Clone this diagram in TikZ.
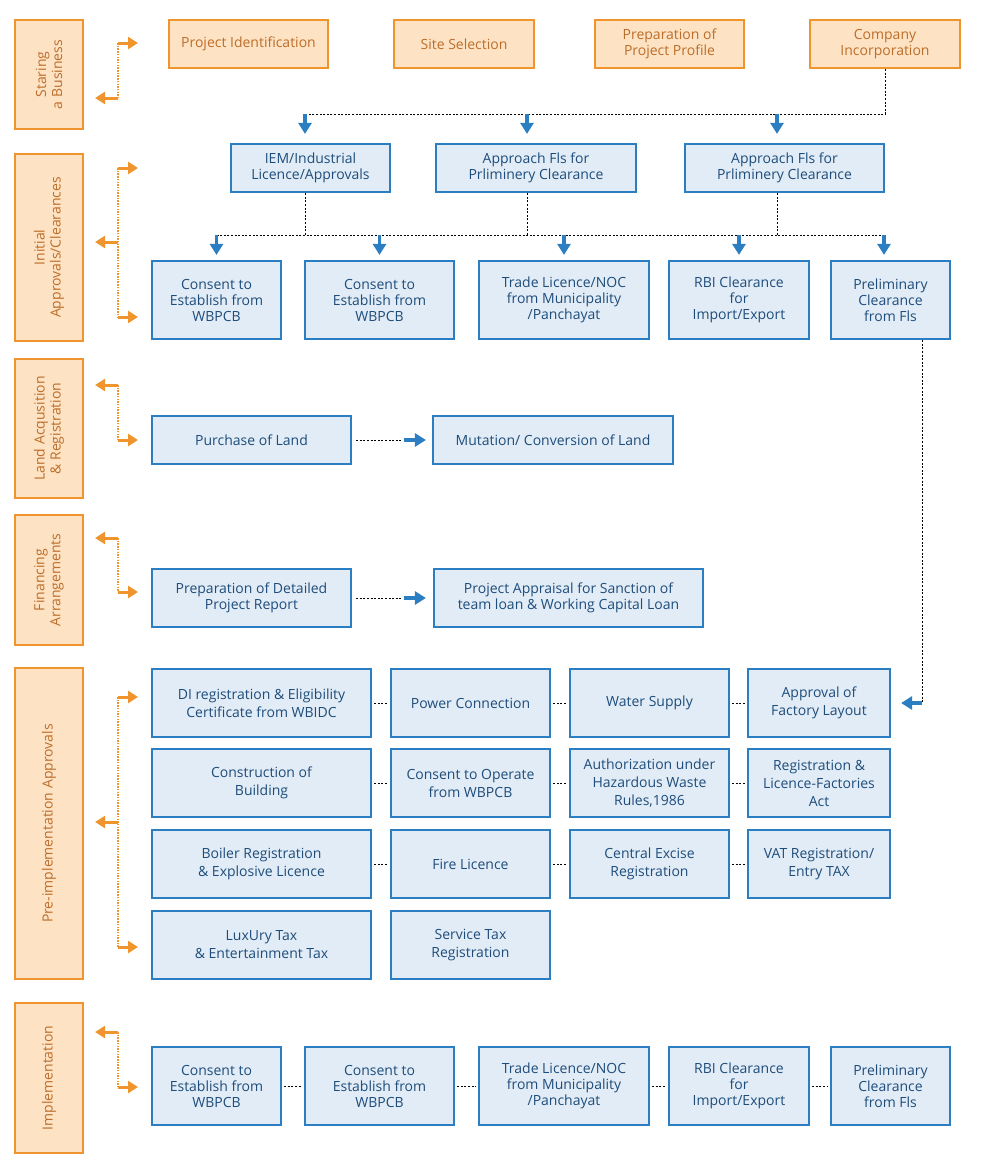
\documentclass[tikz,border=0pt]{standalone}
\usepackage{fontspec}
\setmainfont{Open Sans}
\usetikzlibrary{arrows.meta}
\definecolor{obd}{HTML}{F0952E}
\definecolor{obf}{HTML}{FDE2C3}
\definecolor{otx}{HTML}{BD6E2A}
\definecolor{bbd}{HTML}{2A7EC1}
\definecolor{bbf}{HTML}{E2ECF6}
\definecolor{btx}{HTML}{1E4D7B}
\newcommand\placebox[7]{\node[#2, minimum width={(#5-#3)*1pt}, minimum height={(#6-#4)*1pt}] (#1) at ({(#3+#5)/2},{(#4+#6)/2}) {#7};}
\newcommand\placestage[6]{\node[stg, minimum width={(#5-#3)*1pt}, minimum height={(#4-#2)*1pt}] (#1) at ({(#2+#4)/2},{(#3+#5)/2}) {#6};}
\tikzset{
  obox/.style={draw=obd, fill=obf, line width=2.2pt, text=otx, align=center, inner sep=0pt},
  bbox/.style={draw=bbd, fill=bbf, line width=2.2pt, text=btx, align=center, inner sep=0pt},
  gbox/.style={bbox, font=\fontsize{14}{18}\selectfont},
  stg/.style={obox, rotate=90},
  dotline/.style={black, line width=0.9pt, dash pattern=on 2pt off 1.6pt},
  barrow/.style={bbd, line width=3.2pt, -{Triangle[width=13pt,length=11pt]}},
  oarrow/.style={obd, line width=3pt, -{Triangle[width=12pt,length=10pt]}},
  odot/.style={obd, line width=2pt, dash pattern=on 1.5pt off 1.2pt}
}
\begin{document}
\begin{tikzpicture}[x=1pt, y=-1pt, font=\fontsize{14}{16}\selectfont]
\useasboundingbox[fill=white] (0,0) rectangle (982,1170);

% stages
\placestage{st1}{15}{20}{83}{129}{Staring\\a Business}
\placestage{st2}{15}{154}{83}{341}{Initial\\Approvals/Clearances}
\placestage{st3}{15}{359}{83}{498}{Land Acqusition\\\& Registration}
\placestage{st4}{15}{515}{83}{645}{Financing\\Arrangements}
\placestage{st5}{15}{668}{83}{979}{Pre-implementation Approvals}
\placestage{st6}{15}{1003}{83}{1153}{Implementation}

% row 1
\placebox{pid}{obox}{169}{20}{328}{68}{Project Identification}
\placebox{site}{obox}{394}{20}{534}{68}{Site Selection}
\placebox{prof}{obox}{595}{20}{744}{68}{Preparation of\\Project Profile}
\placebox{comp}{obox}{810}{20}{960}{68}{Company\\Incorporation}

% row 2
\placebox{iem}{bbox}{231}{144}{390}{192}{IEM/Industrial\\Licence/Approvals}
\placebox{afa}{bbox}{436}{144}{636}{192}{Approach Fls for\\Prliminery Clearance}
\placebox{afb}{bbox}{685}{144}{884}{192}{Approach Fls for\\Prliminery Clearance}

% row 3
\placebox{ca}{bbox}{152}{261}{281}{339}{Consent to\\Establish from\\WBPCB}
\placebox{cb}{bbox}{305}{261}{454}{339}{Consent to\\Establish from\\WBPCB}
\placebox{tl}{bbox}{479}{261}{649}{339}{Trade Licence/NOC\\from Municipality\\/Panchayat}
\placebox{rbi}{bbox}{669}{261}{809}{339}{RBI Clearance\\for\\Import/Export}
\placebox{pcf}{bbox}{831}{261}{950}{339}{Preliminary\\Clearance\\from Fls}

% land
\placebox{pl}{bbox}{152}{416}{351}{464}{Purchase of Land}
\placebox{mut}{bbox}{433}{416}{673}{464}{Mutation/ Conversion of Land}

% financing
\placebox{dpr}{bbox}{152}{569}{351}{627}{Preparation of Detailed\\Project Report}
\placebox{pa}{bbox}{434}{569}{703}{627}{Project Appraisal for Sanction of\\team loan \& Working Capital Loan}

% pre-implementation grid
\placebox{g11}{gbox}{152}{669}{371}{737}{DI registration \& Eligibility\\Certificate from WBIDC}
\placebox{g12}{gbox}{391}{669}{550}{737}{Power Connection}
\placebox{g13}{gbox}{570}{669}{729}{737}{Water Supply}
\placebox{g14}{gbox}{748}{669}{890}{737}{Approval of\\Factory Layout}
\placebox{g21}{gbox}{152}{749}{371}{817}{Construction of\\Building}
\placebox{g22}{gbox}{391}{749}{550}{817}{Consent to Operate\\from WBPCB}
\placebox{g23}{gbox}{570}{749}{729}{817}{Authorization under\\Hazardous Waste\\Rules,1986}
\placebox{g24}{gbox}{748}{749}{890}{817}{Registration \&\\Licence-Factories\\Act}
\placebox{g31}{gbox}{152}{830}{371}{898}{Boiler Registration\\\& Explosive Licence}
\placebox{g32}{gbox}{391}{830}{550}{898}{Fire Licence}
\placebox{g33}{gbox}{570}{830}{729}{898}{Central Excise\\Registration}
\placebox{g34}{gbox}{748}{830}{890}{898}{VAT Registration/\\Entry TAX}
\placebox{g41}{gbox}{152}{911}{371}{979}{LuxUry Tax\\\& Entertainment Tax}
\placebox{g42}{gbox}{391}{911}{550}{979}{Service Tax\\Registration}

% implementation
\placebox{ia}{bbox}{152}{1047}{281}{1125}{Consent to\\Establish from\\WBPCB}
\placebox{ib}{bbox}{305}{1047}{454}{1125}{Consent to\\Establish from\\WBPCB}
\placebox{itl}{bbox}{479}{1047}{649}{1125}{Trade Licence/NOC\\from Municipality\\/Panchayat}
\placebox{irbi}{bbox}{669}{1047}{809}{1125}{RBI Clearance\\for\\Import/Export}
\placebox{ipcf}{bbox}{831}{1047}{950}{1125}{Preliminary\\Clearance\\from Fls}

% ---- connectors: company incorporation -> row 2
\coordinate (busA) at (0,114);
\coordinate (ax1) at (305,0);
\coordinate (ax2) at (527,0);
\coordinate (ax3) at (777,0);
\draw[dotline] (comp.south) -- (comp.south |- busA) -- (ax1 |- busA);
\draw[barrow] (ax1 |- busA) -- ([yshift=9pt]ax1 |- iem.north);
\draw[barrow] (ax2 |- busA) -- ([yshift=9pt]ax2 |- afa.north);
\draw[barrow] (ax3 |- busA) -- ([yshift=9pt]ax3 |- afb.north);

% ---- row 2 -> row 3
\coordinate (busB) at (0,235);
\coordinate (bx5) at (884,0);
\draw[dotline] (ax1 |- iem.south) -- (ax1 |- busB);
\draw[dotline] (ax2 |- afa.south) -- (ax2 |- busB);
\draw[dotline] (ax3 |- afb.south) -- (ax3 |- busB);
\draw[dotline] (ca.north |- busB) -- (bx5 |- busB);
\draw[barrow] (ca.north |- busB) -- ([yshift=5pt]ca.north);
\draw[barrow] (cb.north |- busB) -- ([yshift=5pt]cb.north);
\draw[barrow] (tl.north |- busB) -- ([yshift=5pt]tl.north);
\draw[barrow] (rbi.north |- busB) -- ([yshift=5pt]rbi.north);
\draw[barrow] (bx5 |- busB) -- ([yshift=5pt]bx5 |- pcf.north);

% ---- preliminary clearance -> factory layout
\coordinate (px) at (922,703);
\draw[dotline] (px |- pcf.south) -- (px);
\draw[barrow, shorten >=10pt] (px) -- (g14.east |- px);

% ---- land and financing arrows
\draw[dotline] ([xshift=4pt]pl.east) -- ([xshift=-31pt]mut.west);
\draw[barrow] ([xshift=-28pt]mut.west) -- ([xshift=-6pt]mut.west);
\draw[dotline] ([xshift=4pt]dpr.east |- pa.west) -- ([xshift=-32pt]pa.west);
\draw[barrow] ([xshift=-29pt]pa.west) -- ([xshift=-7pt]pa.west);

% ---- grid connectors
\foreach \r in {1,2,3}{
  \draw[dotline] ([xshift=2pt]g\r1.east) -- ([xshift=-2pt]g\r2.west);
  \draw[dotline] ([xshift=2pt]g\r2.east) -- ([xshift=-2pt]g\r3.west);
  \draw[dotline] ([xshift=2pt]g\r3.east) -- ([xshift=-2pt]g\r4.west);
}
\draw[dotline] ([xshift=2pt]ia.east) -- ([xshift=-2pt]ib.west);
\draw[dotline] ([xshift=2pt]ib.east) -- ([xshift=-2pt]itl.west);
\draw[dotline] ([xshift=2pt]itl.east) -- ([xshift=-2pt]irbi.west);
\draw[dotline] ([xshift=2pt]irbi.east) -- ([xshift=-2pt]ipcf.west);

% ---- orange brackets
\coordinate (o1a) at (118,43);  \coordinate (o1b) at (118,98);
\draw[odot] (o1a) -- (o1b);
\draw[oarrow] (o1a) -- ++(20,0);
\draw[oarrow, shorten >=11pt] (o1b) -- (st1.south |- o1b);

\coordinate (o2a) at (118,168); \coordinate (o2b) at (118,242); \coordinate (o2c) at (118,317);
\draw[odot] (o2a) -- (o2c);
\draw[oarrow] (o2a) -- ++(20,0);
\draw[oarrow, shorten >=11pt] (o2b) -- (st2.south |- o2b);
\draw[oarrow] (o2c) -- ++(20,0);

\coordinate (o3a) at (118,385); \coordinate (o3b) at (118,440);
\draw[odot] (o3a) -- (o3b);
\draw[oarrow, shorten >=11pt] (o3a) -- (st3.south |- o3a);
\draw[oarrow] (o3b) -- ++(20,0);

\coordinate (o4a) at (118,538); \coordinate (o4b) at (118,592);
\draw[odot] (o4a) -- (o4b);
\draw[oarrow, shorten >=11pt] (o4a) -- (st4.south |- o4a);
\draw[oarrow] (o4b) -- ++(20,0);

\coordinate (o5a) at (118,697); \coordinate (o5b) at (118,822); \coordinate (o5c) at (118,947);
\draw[odot] (o5a) -- (o5c);
\draw[oarrow] (o5a) -- ++(20,0);
\draw[oarrow, shorten >=11pt] (o5b) -- (st5.south |- o5b);
\draw[oarrow] (o5c) -- ++(20,0);

\coordinate (o6a) at (118,1032); \coordinate (o6b) at (118,1087);
\draw[odot] (o6a) -- (o6b);
\draw[oarrow, shorten >=11pt] (o6a) -- (st6.south |- o6a);
\draw[oarrow] (o6b) -- ++(20,0);
\end{tikzpicture}
\end{document}
